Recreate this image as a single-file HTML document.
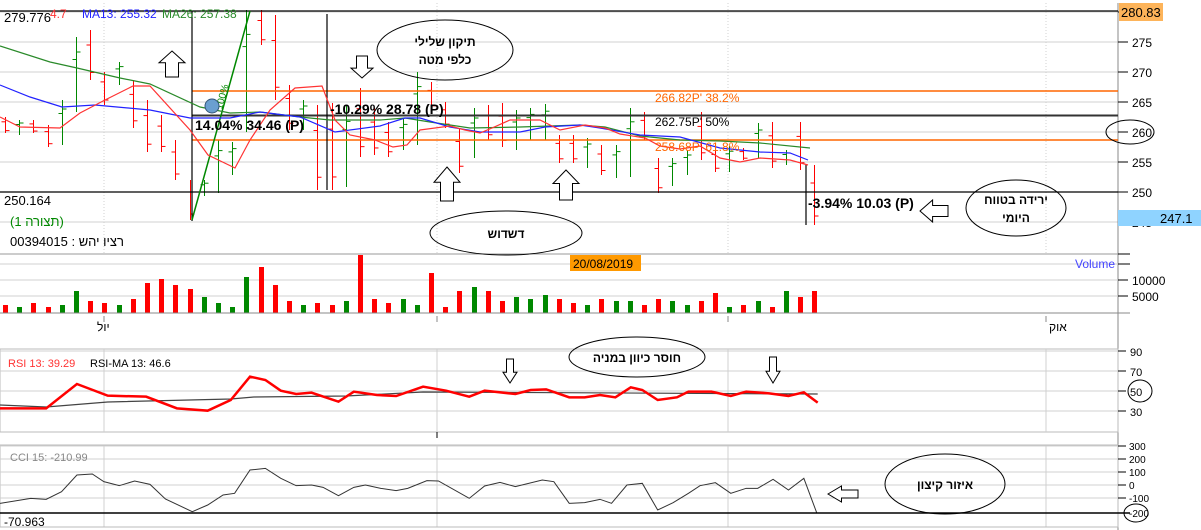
<!DOCTYPE html>
<html><head><meta charset="utf-8"><style>
html,body{margin:0;padding:0;background:#fff;}
svg{display:block;font-family:"Liberation Sans","Noto Sans CJK SC",sans-serif;}
</style></head><body>
<svg id="s" width="1201" height="530" viewBox="0 0 1201 530" xmlns="http://www.w3.org/2000/svg">
<rect width="1201" height="530" fill="#fff"/>
<g id="grid" stroke="#d0d0d0" stroke-width="1"></g>
<g id="bars"></g>
<g id="lines" fill="none"></g>
<g id="txt"></g>
</svg>
<script>
const NS="http://www.w3.org/2000/svg";
function el(p,t,a,txt){const e=document.createElementNS(NS,t);for(const k in a)e.setAttribute(k,a[k]);if(txt!==undefined)e.textContent=txt;document.getElementById(p).appendChild(e);return e;}
const Y=p=>192-(p-250)*6;
// price grid
for(let p=245;p<=280;p+=5){el('grid','line',{x1:0,x2:1118,y1:Y(p),y2:Y(p)});el('txt','line',{x1:1118,x2:1128,y1:Y(p),y2:Y(p),stroke:'#000'});el('txt','text',{x:1132,y:Y(p)+5,'font-size':12},p);}
[104,437,728,1046].forEach(x=>{el('grid','line',{x1:x,x2:x,y1:3,y2:253,'stroke-dasharray':'1,2'});});
el('grid','line',{x1:1118,x2:1118,y1:3,y2:530,stroke:'#888'});
// volume grid
[264,280,296].forEach(y=>el('grid','line',{x1:0,x2:1118,y1:y,y2:y}));
el('txt','line',{x1:0,x2:1118,y1:254,y2:254,stroke:'#999'});
el('txt','line',{x1:0,x2:1130,y1:313,y2:313,stroke:'#888'});
[[10000,280],[5000,296]].forEach(([v,y])=>{el('txt','line',{x1:1118,x2:1128,y1:y,y2:y,stroke:'#000'});el('txt','text',{x:1132,y:y+5,'font-size':12},v);});
el('txt','line',{x1:1118,x2:1130,y1:264,y2:264,stroke:'#000'});
el('txt','line',{x1:1118,x2:1130,y1:254,y2:254,stroke:'#000'});
// RSI panel
el('grid','rect',{x:0,y:349,width:1118,height:83,fill:'none',stroke:'#bbb'});
[351,371,391,411].forEach(y=>el('grid','line',{x1:0,x2:1118,y1:y,y2:y}));
[104,437,728,1046].forEach(x=>{el('grid','line',{x1:x,x2:x,y1:349,y2:432});el('grid','line',{x1:x,x2:x,y1:445,y2:527});});
[[90,351],[70,371],[50,391],[30,411]].forEach(([v,y])=>{el('txt','line',{x1:1118,x2:1126,y1:y,y2:y,stroke:'#000'});el('txt','text',{x:1130,y:y+5,'font-size':11},v);});
// CCI panel
el('grid','rect',{x:0,y:445,width:1118,height:82,fill:'none',stroke:'#bbb'});
[446,459,472,485,498].forEach(y=>el('grid','line',{x1:0,x2:1118,y1:y,y2:y}));
[['300',446],['200',459],['100',472],['0',485],['-100',498],['-200',513]].forEach(([v,y])=>{el('txt','line',{x1:1118,x2:1126,y1:y,y2:y,stroke:'#000'});el('txt','text',{x:1129,y:y+4,'font-size':10},v);});
el('txt','line',{x1:0,x2:1130,y1:513,y2:513,stroke:'#000','stroke-width':1.5});
// OHLC bars [y high, y low, color]
const B=[[117,133,'r'],[120,135,'g'],[120,133,'r'],[125,147,'r'],[100,145,'g'],[37,112,'g'],[30,80,'r'],[72,105,'r'],[62,85,'g'],[80,128,'r'],[100,152,'r'],[115,152,'r'],[140,180,'r'],[180,220,'r'],[180,196,'g'],[140,193,'g'],[142,175,'g'],[10,132,'g'],[10,45,'r'],[15,100,'r'],[85,130,'r'],[100,130,'g'],[105,190,'r'],[103,190,'r'],[105,187,'g'],[88,157,'r'],[108,155,'r'],[122,157,'r'],[118,150,'g'],[72,145,'g'],[82,110,'r'],[102,128,'r'],[128,173,'r'],[108,158,'g'],[105,140,'r'],[103,147,'r'],[110,150,'g'],[108,140,'g'],[104,140,'g'],[135,163,'r'],[135,163,'r'],[138,168,'g'],[145,175,'r'],[145,178,'g'],[108,177,'g'],[112,140,'r'],[158,193,'r'],[158,186,'g'],[150,175,'g'],[112,160,'r'],[147,172,'r'],[146,172,'g'],[148,160,'r'],[123,158,'g'],[122,168,'r'],[150,165,'g'],[122,170,'r'],[165,225,'r']];
const VH=[8,6,10,6,8,22,12,10,8,14,30,34,28,24,16,10,6,36,46,28,12,8,10,8,12,58,14,10,14,8,40,6,22,26,22,12,16,14,18,14,10,8,14,12,12,8,14,12,8,12,20,6,8,12,6,22,16,22];
B.forEach((b,i)=>{const x=Math.round(5+14.2*i)+.5;const c=b[2]=='r'?'#f00':'#080';
 el('bars','line',{x1:x,x2:x,y1:b[0],y2:b[1],stroke:c});
 const o=b[0]+(b[1]-b[0])*0.3,cl=b[0]+(b[1]-b[0])*(b[2]=='r'?0.85:0.2);
 el('bars','line',{x1:x-4,x2:x,y1:o,y2:o,stroke:c});el('bars','line',{x1:x,x2:x+4,y1:cl,y2:cl,stroke:c});
 const h=VH[i];el('bars','rect',{x:x-2.5,y:313-h,width:5,height:h,fill:c});});
// fib and reference lines
el('lines','line',{x1:192,x2:1118,y1:91,y2:91,stroke:'#f60','stroke-width':1.5});
el('lines','line',{x1:192,x2:1118,y1:140,y2:140,stroke:'#f60','stroke-width':1.5});
el('lines','line',{x1:192,x2:1118,y1:115.5,y2:115.5,stroke:'#333','stroke-width':2});
el('lines','line',{x1:0,x2:1118,y1:11,y2:11,stroke:'#000','stroke-width':1.2});
el('lines','line',{x1:0,x2:1118,y1:192,y2:192,stroke:'#000','stroke-width':1.2});
el('lines','line',{x1:192,x2:192,y1:11,y2:221,stroke:'#000','stroke-width':1.2});
el('lines','line',{x1:327,x2:327,y1:14,y2:190,stroke:'#000','stroke-width':1.2});
el('lines','line',{x1:806,x2:806,y1:165,y2:225,stroke:'#000','stroke-width':1.2});
el('lines','line',{x1:192,x2:250,y1:220,y2:11,stroke:'#080','stroke-width':1.5});
const P=(pts,st,w)=>el('lines','polyline',{points:pts.map(p=>p.join(',')).join(' '),stroke:st,'stroke-width':w||1.2});
P([[0,46],[50,62],[77,68],[120,78],[150,84],[200,107],[230,113],[260,112],[300,117],[330,120],[380,120],[405,118],[430,122],[470,128],[520,127],[580,125],[605,127],[640,136],[680,140],[720,141],[760,143],[810,148]],'#2a8a2a');
P([[0,85],[30,97],[62,107],[95,105],[150,110],[190,118],[230,118],[260,112],[300,117],[335,132],[380,126],[405,118],[420,118],[450,127],[480,132],[520,132],[545,127],[580,125],[600,128],[640,135],[680,137],[720,148],[760,152],[790,153],[808,160]],'#22f');
P([[0,117],[20,127],[60,128],[80,113],[105,100],[133,86],[150,86],[190,130],[208,155],[235,168],[250,140],[270,110],[295,88],[322,86],[335,120],[350,135],[375,140],[393,147],[407,145],[420,130],[450,126],[465,130],[480,133],[492,128],[510,120],[540,120],[560,130],[585,125],[605,128],[620,134],[645,138],[660,146],[680,149],[700,146],[720,158],[740,162],[760,158],[790,160],[808,165]],'#f33');
// RSI
const rx=z=>z/1.3, ry=z=>320+z/3;
const rsi=[[0,265],[60,265],[100,192],[140,227],[190,230],[230,265],[270,272],[300,240],[325,170],[345,180],[365,212],[385,222],[405,218],[440,245],[460,215],[490,225],[515,228],[550,200],[580,212],[610,230],[630,212],[670,222],[690,210],[710,208],[740,232],[760,232],[780,225],[800,232],[820,202],[835,210],[855,240],[880,232],[895,215],[925,215],[950,228],[970,215],[1000,220],[1025,228],[1045,217],[1063,248]];
P([[0,405],[60,407],[140,402],[300,399],[330,397],[450,396],[550,392],[1063,394]].map(p=>[rx(p[0]),p[1]]),'#444',1.2);
P(rsi.map(p=>[rx(p[0]),ry(p[1])]),'#f00',2.5);
const cci=[[0,550],[40,535],[60,538],[80,515],[100,465],[120,462],[135,485],[155,497],[175,483],[195,493],[215,537],[250,575],[270,555],[290,525],[305,520],[325,450],[345,445],[365,475],[385,497],[405,495],[420,502],[440,527],[460,502],[475,495],[495,505],[515,512],[530,505],[555,482],[570,483],[610,535],[630,498],[650,487],[670,500],[705,480],[720,485],[740,550],[760,548],[780,538],[795,550],[815,495],[835,490],[855,570],[875,548],[895,520],[910,497],[930,488],[950,520],[970,505],[985,505],[1005,478],[1025,510],[1045,475],[1062,580]];
P(cci.map(p=>[rx(p[0]),ry(p[1])]),'#333',1);
// text
const T=(x,y,s,a)=>el('txt','text',Object.assign({x:x,y:y,'font-size':12},a||{}),s);
T(4,22,'279.776',{'font-size':13});T(50,18,'4.7',{fill:'#f33'});T(82,18,'MA13: 255.32',{fill:'#22f'});T(162,18,'MA26: 257.38',{fill:'#2a8a2a'});
T(4,205,'250.164',{'font-size':13});T(10,226,'(תצורה 1)',{fill:'#080','font-size':13});T(10,246,'00394015 : רציו יהש',{'font-size':13});
T(655,102,"266.82P'  38.2%",{fill:'#f60'});T(655,126,"262.75P'  50%");T(655,151,"258.68P'  61.8%",{fill:'#f60'});
T(330,114,'-10.29% 28.78 (P)',{'font-size':14,'font-weight':'bold'});T(195,130,'14.04% 34.46 (P)',{'font-size':14,'font-weight':'bold'});T(808,208,'-3.94% 10.03 (P)',{'font-size':14,'font-weight':'bold'});
T(222,110,'100%',{fill:'#080','font-size':10,transform:'rotate(-75 222 110)'});
el('txt','circle',{cx:212,cy:106,r:7,fill:'#6a9fd0',stroke:'#357'});
el('txt','rect',{x:1119,y:3,width:44,height:18,fill:'#fdb45a'});T(1121,17,'280.83',{'font-size':13});
el('txt','rect',{x:1118,y:210,width:83,height:16,fill:'#8fd3ff'});T(1160,223,'247.1',{'font-size':13});
el('txt','rect',{x:570,y:255,width:71,height:16,fill:'#f90'});T(573,268,'20/08/2019',{'font-size':12});
T(1075,268,'Volume',{fill:'#44f'});
T(97,331,'יול',{'font-size':12});T(1049,331,'אוק',{'font-size':12});
[104,437,728,1046].forEach(x=>el('txt','line',{x1:x,x2:x,y1:316,y2:322,stroke:'#888'}));
el('txt','line',{x1:437,x2:437,y1:432,y2:438,stroke:'#000'});
T(8,367,'RSI 13: 39.29',{fill:'#f33','font-size':11});T(90,367,'RSI-MA 13: 46.6',{'font-size':11});
T(10,461,'CCI 15: -210.99',{fill:'#888','font-size':11});T(4,526,'-70.963',{'font-size':12});
// ellipses
const E=(cx,cy,rxx,ryy,lines,fs)=>{el('txt','ellipse',{cx:cx,cy:cy,rx:rxx,ry:ryy,fill:'none',stroke:'#000'});lines.forEach((l,i)=>T(cx,cy+5+(i-(lines.length-1)/2)*18,l,{'text-anchor':'middle','font-weight':'bold','font-size':fs||12}));};
E(445,50,68,30,['תיקון שלילי','כלפי מטה']);E(506,233,76,22,['דשדוש']);E(1016,208,50,28,['ירידה בטווח','היומי']);
E(637,357,68,20,['חוסר כיוון במניה']);E(945,484,60,30,['איזור קיצון']);
el('txt','ellipse',{cx:1130,cy:132,rx:24,ry:12,fill:'none',stroke:'#000'});
el('txt','ellipse',{cx:1140,cy:391,rx:12,ry:11,fill:'none',stroke:'#000'});
el('txt','ellipse',{cx:1136,cy:513,rx:12,ry:9,fill:'none',stroke:'#000'});
// hollow arrows
const up=(cx,ty,w,h)=>el('txt','polygon',{points:`${cx},${ty} ${cx+w/2},${ty+h*0.45} ${cx+w/4},${ty+h*0.45} ${cx+w/4},${ty+h} ${cx-w/4},${ty+h} ${cx-w/4},${ty+h*0.45} ${cx-w/2},${ty+h*0.45}`,fill:'#fff',stroke:'#000'});
const dn=(cx,ty,w,h)=>el('txt','polygon',{points:`${cx},${ty+h} ${cx+w/2},${ty+h*0.55} ${cx+w/4},${ty+h*0.55} ${cx+w/4},${ty} ${cx-w/4},${ty} ${cx-w/4},${ty+h*0.55} ${cx-w/2},${ty+h*0.55}`,fill:'#fff',stroke:'#000'});
const lf=(lx,cy,w,h)=>el('txt','polygon',{points:`${lx},${cy} ${lx+w*0.45},${cy-h/2} ${lx+w*0.45},${cy-h/4} ${lx+w},${cy-h/4} ${lx+w},${cy+h/4} ${lx+w*0.45},${cy+h/4} ${lx+w*0.45},${cy+h/2}`,fill:'#fff',stroke:'#000'});
up(172,51,26,26);dn(362,56,22,22);up(447,167,26,34);up(566,170,26,30);lf(920,211,28,22);
dn(510,359,14,24);dn(773,357,14,26);lf(828,494,30,16);
</script>
</body></html>
